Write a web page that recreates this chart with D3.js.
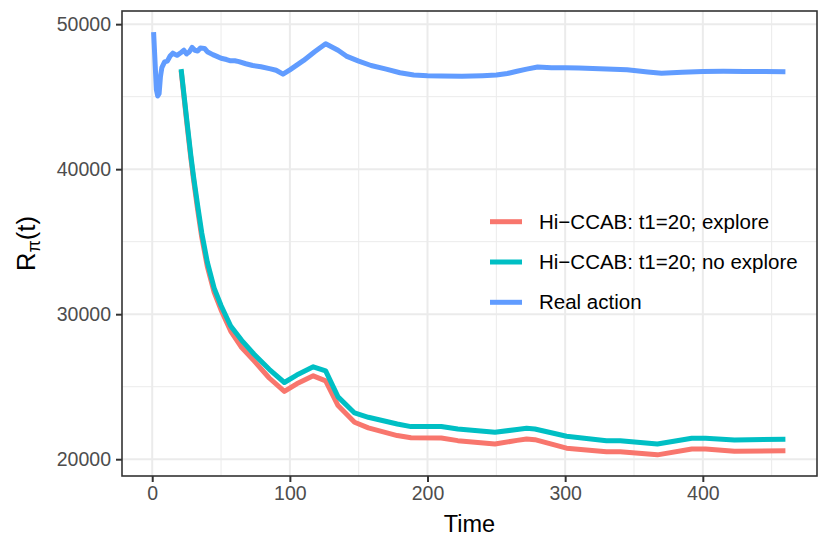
<!DOCTYPE html>
<html>
<head>
<meta charset="utf-8">
<script src="https://cdn.jsdelivr.net/npm/d3@7"></script>
<style>
  html, body { margin: 0; padding: 0; background: #fff; overflow: hidden; }
  svg { display: block; }
  text { font-family: "Liberation Sans", Arial, sans-serif; }
</style>
</head>
<body>
<svg id="chart" width="830" height="551"></svg>
<script>
// data
const realTime = [1, 2, 3, 4, 5, 6, 7, 9, 11, 13, 15, 18, 21, 23, 25, 27, 29, 31, 33, 35, 38, 40, 44, 47, 50, 54, 57, 60, 63, 68, 73, 79, 86, 90, 95,
  100, 110, 118, 126, 135, 141, 150, 159, 170, 180, 190, 200, 210, 225, 240, 250, 258, 265, 272, 280, 290, 300, 310, 325, 345, 360, 370,
  385, 400, 415, 430, 445, 460];
const realValue = [49450, 47500, 45500, 45050, 45200, 46400, 47000, 47400, 47450, 47800, 48000, 47850, 48050, 48200, 47950, 48100, 48400,
  48200, 48150, 48350, 48330, 48100, 47900, 47780, 47650, 47560, 47470, 47480, 47420, 47270, 47150, 47060, 46920, 46820, 46550,
  46850, 47500, 48100, 48650, 48200, 47800, 47450, 47150, 46900, 46650, 46500, 46450, 46430, 46400, 46450, 46500, 46600, 46750,
  46900, 47050, 47000, 47000, 46980, 46920, 46850, 46700, 46620, 46680, 46730, 46750, 46740, 46730, 46720];

const hiTime = [21, 25, 28, 30, 33, 36, 40, 45, 50, 57, 65, 74, 85, 96, 105, 117, 126, 135, 147, 157, 178, 188, 210, 222, 249, 265, 272,
  278, 301, 330, 340, 367, 392, 402, 423, 460];
const exploreValue = [46800, 43300, 40800, 39300, 37200, 35300, 33300, 31500, 30300, 28840, 27700, 26780, 25600, 24670, 25200, 25750,
  25400, 23700, 22550, 22160, 21630, 21480, 21466, 21280, 21050, 21300, 21400, 21350, 20760, 20520, 20520, 20300, 20710, 20710,
  20550, 20590];
const noExploreValue = [46900, 43500, 41000, 39500, 37500, 35600, 33600, 31800, 30600, 29190, 28200, 27240, 26200, 25290, 25800, 26370,
  26090, 24300, 23190, 22890, 22430, 22250, 22260, 22085, 21860, 22050, 22130, 22085, 21580, 21280, 21280, 21050, 21445, 21445,
  21330, 21370];

const seriesNames = ["Hi\u2212CCAB: t1=20; explore", "Hi\u2212CCAB: t1=20; no explore", "Real action"];
const seriesColors = ["#F8766D", "#00BFC4", "#619CFF"];

const xTicks = [0, 100, 200, 300, 400];
const xMinor = [50, 150, 250, 350, 450];
const yTicks = [20000, 30000, 40000, 50000];
const yMinor = [25000, 35000, 45000];

const series = [
  { name: seriesNames[0], color: seriesColors[0], pts: hiTime.map((t, i) => [t, exploreValue[i]]) },
  { name: seriesNames[1], color: seriesColors[1], pts: hiTime.map((t, i) => [t, noExploreValue[i]]) },
  { name: seriesNames[2], color: seriesColors[2], pts: realTime.map((t, i) => [t, realValue[i]]) }
];

const svg = d3.select("#chart");
const margin = { top: 11, right: 13, bottom: 75, left: 122 };
const innerWidth = +svg.attr("width") - margin.left - margin.right;
const innerHeight = +svg.attr("height") - margin.top - margin.bottom;

const g = svg.append("g")
  .attr("transform", `translate(${margin.left},${margin.top})`);

// ggplot style 5% expansion
const allT = realTime.concat(hiTime);
const allV = realValue.concat(exploreValue, noExploreValue);
const [tMin, tMax] = d3.extent(allT);
const [vMin, vMax] = d3.extent(allV);
const tPad = (tMax - tMin) * 0.05, vPad = (vMax - vMin) * 0.05;

const xScale = d3.scaleLinear().domain([tMin - tPad, tMax + tPad]).range([0, innerWidth]);
const yScale = d3.scaleLinear().domain([vMin - vPad, vMax + vPad]).range([innerHeight, 0]);

// grid
const grid = g.append("g").attr("stroke", "#EBEBEB");
grid.selectAll(".xminor").data(xMinor).enter().append("line")
  .attr("x1", d => xScale(d)).attr("x2", d => xScale(d))
  .attr("y1", 0).attr("y2", innerHeight).attr("stroke-width", 1);
grid.selectAll(".yminor").data(yMinor).enter().append("line")
  .attr("y1", d => yScale(d)).attr("y2", d => yScale(d))
  .attr("x1", 0).attr("x2", innerWidth).attr("stroke-width", 1);
grid.selectAll(".xmajor").data(xTicks).enter().append("line")
  .attr("x1", d => xScale(d)).attr("x2", d => xScale(d))
  .attr("y1", 0).attr("y2", innerHeight).attr("stroke-width", 2);
grid.selectAll(".ymajor").data(yTicks).enter().append("line")
  .attr("y1", d => yScale(d)).attr("y2", d => yScale(d))
  .attr("x1", 0).attr("x2", innerWidth).attr("stroke-width", 2);

// lines
const line = d3.line().x(d => xScale(d[0])).y(d => yScale(d[1]));
g.append("g").selectAll("path")
  .data(series)
  .enter()
  .append("path")
  .attr("d", d => line(d.pts))
  .attr("fill", "none")
  .attr("stroke", d => d.color)
  .attr("stroke-width", 5)
  .attr("stroke-linejoin", "round");

// panel border
g.append("rect")
  .attr("width", innerWidth).attr("height", innerHeight)
  .attr("fill", "none").attr("stroke", "#333333").attr("stroke-width", 1.6);

// axes
const xAxis = d3.axisBottom(xScale).tickValues(xTicks).tickSize(6).tickPadding(4).tickFormat(d3.format("d"));
const yAxis = d3.axisLeft(yScale).tickValues(yTicks).tickSize(6).tickPadding(5).tickFormat(d3.format("d"));

const gx = g.append("g").attr("transform", `translate(0,${innerHeight})`).call(xAxis);
const gy = g.append("g").call(yAxis);
[gx, gy].forEach(a => {
  a.select(".domain").remove();
  a.selectAll(".tick line").attr("stroke", "#333333").attr("stroke-width", 2);
  a.selectAll(".tick text").attr("fill", "#4D4D4D").style("font-size", "19.5px");
});

// axis titles
svg.append("text")
  .attr("x", margin.left + innerWidth / 2).attr("y", 531.5)
  .attr("text-anchor", "middle").style("font-size", "23.5px").attr("fill", "#000")
  .text("Time");

const yt = svg.append("text")
  .attr("transform", `translate(35,${margin.top + innerHeight / 2}) rotate(-90)`)
  .attr("text-anchor", "middle").style("font-size", "25.5px").attr("fill", "#000");
yt.append("tspan").text("R");
yt.append("tspan").attr("dy", 5).style("font-size", "18px").text("\u03C0");
yt.append("tspan").attr("dy", -5).text("(t)");

// legend
const legend = svg.append("g").attr("transform", "translate(490,221.7)");
const rows = legend.selectAll("g").data(series).enter().append("g")
  .attr("transform", (d, i) => `translate(0,${i * 40.3})`);
rows.append("line")
  .attr("x1", 0).attr("x2", 32).attr("y1", 0).attr("y2", 0)
  .attr("stroke", d => d.color).attr("stroke-width", 5);
rows.append("text")
  .attr("x", 49).attr("y", 0).attr("dy", "0.35em")
  .style("font-size", "20.5px").attr("fill", "#000")
  .text(d => d.name);
</script>
</body>
</html>
